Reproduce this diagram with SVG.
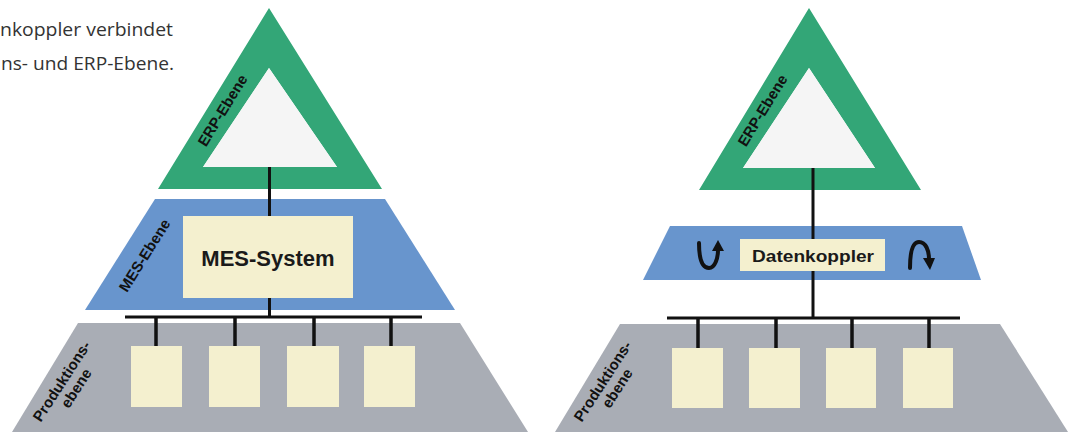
<svg xmlns="http://www.w3.org/2000/svg" width="1070" height="432" viewBox="0 0 1070 432">
<style>
.green{fill:#33a677}
.inner{fill:#f5f5f5}
.blue{fill:#6895cd}
.gray{fill:#a9adb5}
.box{fill:#f4f0cf}
.lbl{font-family:"Liberation Sans",Arial,sans-serif;font-weight:bold;fill:#111;font-size:15px;text-anchor:middle}
.cap{font-family:"Open Sans","Noto Sans",sans-serif;font-size:19px;fill:#333}
.wire{stroke:#111;stroke-width:3;fill:none}
.drop{stroke:#111;stroke-width:3.5;fill:none}
.arr{stroke:#111;stroke-width:4;fill:none;stroke-linecap:round}
</style>
<rect width="1070" height="432" fill="#ffffff"/>
<g id="caption">
<text class="cap" x="0" y="36" textLength="173" lengthAdjust="spacingAndGlyphs">nkoppler verbindet</text>
<text class="cap" x="1" y="70" textLength="173" lengthAdjust="spacingAndGlyphs">ns- und ERP-Ebene.</text>
</g>
<!-- Left diagram -->
<g id="left-prod-level">
<polygon class="gray" points="78,323 460,323 528,432 12,432"/>
<text class="lbl" transform="translate(66,384) rotate(-57)"><tspan x="0" y="0">Produktions-</tspan><tspan x="2" y="16">ebene</tspan></text>
</g>
<g id="left-mes-level">
<polygon class="blue" points="155,199 385,199 455,310 85,310"/>
<text class="lbl" transform="translate(149,258) rotate(-57.8)">MES-Ebene</text>
</g>
<g id="left-erp-level">
<path class="green" fill-rule="evenodd" d="M269,8 L382,189 L158,189 Z M269,68 L203,167 L337,167 Z"/>
<path class="inner" d="M269,68 L203,167 L337,167 Z"/>
<text class="lbl" transform="translate(227,113) rotate(-58.5)">ERP-Ebene</text>
</g>
<g id="left-mes-system">
<rect class="box" x="183" y="216" width="170" height="82"/>
<text x="268" y="266" style="font-family:'Liberation Sans',Arial,sans-serif;font-weight:bold;font-size:22px;fill:#1a1a1a;text-anchor:middle">MES-System</text>
</g>
<g id="left-machine-1"><rect class="box" x="131" y="346" width="51" height="61"/></g>
<g id="left-machine-2"><rect class="box" x="209" y="346" width="51" height="61"/></g>
<g id="left-machine-3"><rect class="box" x="287" y="346" width="52" height="61"/></g>
<g id="left-machine-4"><rect class="box" x="364" y="346" width="51" height="61"/></g>
<!-- Right diagram -->
<g id="right-prod-level">
<polygon class="gray" points="620,324 1000,324 1068,432 555,432"/>
<text class="lbl" transform="translate(607,384) rotate(-57)"><tspan x="0" y="0">Produktions-</tspan><tspan x="2" y="16">ebene</tspan></text>
</g>
<g id="right-mes-level">
<polygon class="blue" points="670,226 962,226 981,280 643,280"/>
</g>
<g id="right-erp-level">
<path class="green" fill-rule="evenodd" d="M809,8 L921,190 L699,190 Z M809,68 L743,168 L875,168 Z"/>
<path class="inner" d="M809,68 L743,168 L875,168 Z"/>
<text class="lbl" transform="translate(767,113) rotate(-58.5)">ERP-Ebene</text>
</g>
<g id="right-datenkoppler">
<rect class="box" x="740" y="239" width="145" height="32"/>
<text x="813" y="262" style="font-family:'Liberation Sans',Arial,sans-serif;font-weight:bold;font-size:17px;fill:#1a1a1a;text-anchor:middle" textLength="122" lengthAdjust="spacingAndGlyphs">Datenkoppler</text>
</g>
<g id="right-arrow-up">
<path class="arr" d="M699,243 C699,262 703,268 709,268 C715,268 718,258 718,250"/>
<polygon points="712,251 718,240 724,251" fill="#111"/>
</g>
<g id="right-arrow-down">
<path class="arr" d="M910,268 C910,250 913,242 919,242 C926,242 929,251 929,259"/>
<polygon points="923,258 935,258 930,270" fill="#111"/>
</g>
<g id="right-machine-1"><rect class="box" x="672" y="348" width="51" height="60"/></g>
<g id="right-machine-2"><rect class="box" x="749" y="348" width="51" height="60"/></g>
<g id="right-machine-3"><rect class="box" x="826" y="348" width="50" height="60"/></g>
<g id="right-machine-4"><rect class="box" x="903" y="348" width="50" height="60"/></g>
<g id="connectors">
<line class="wire" x1="269.5" y1="167" x2="269.5" y2="216"/>
<line class="wire" x1="269.5" y1="298" x2="269.5" y2="317"/>
<line class="wire" x1="125" y1="317" x2="422" y2="317"/>
<line class="drop" x1="156" y1="317" x2="156" y2="346"/>
<line class="drop" x1="235" y1="317" x2="235" y2="346"/>
<line class="drop" x1="314" y1="317" x2="314" y2="346"/>
<line class="drop" x1="391" y1="317" x2="391" y2="346"/>
<line class="wire" x1="813" y1="168" x2="813" y2="239"/>
<line class="wire" x1="813" y1="271" x2="813" y2="318"/>
<line class="wire" x1="667" y1="318" x2="960" y2="318"/>
<line class="drop" x1="698" y1="318" x2="698" y2="348"/>
<line class="drop" x1="776" y1="318" x2="776" y2="348"/>
<line class="drop" x1="852" y1="318" x2="852" y2="348"/>
<line class="drop" x1="929" y1="318" x2="929" y2="348"/>
</g>
</svg>
